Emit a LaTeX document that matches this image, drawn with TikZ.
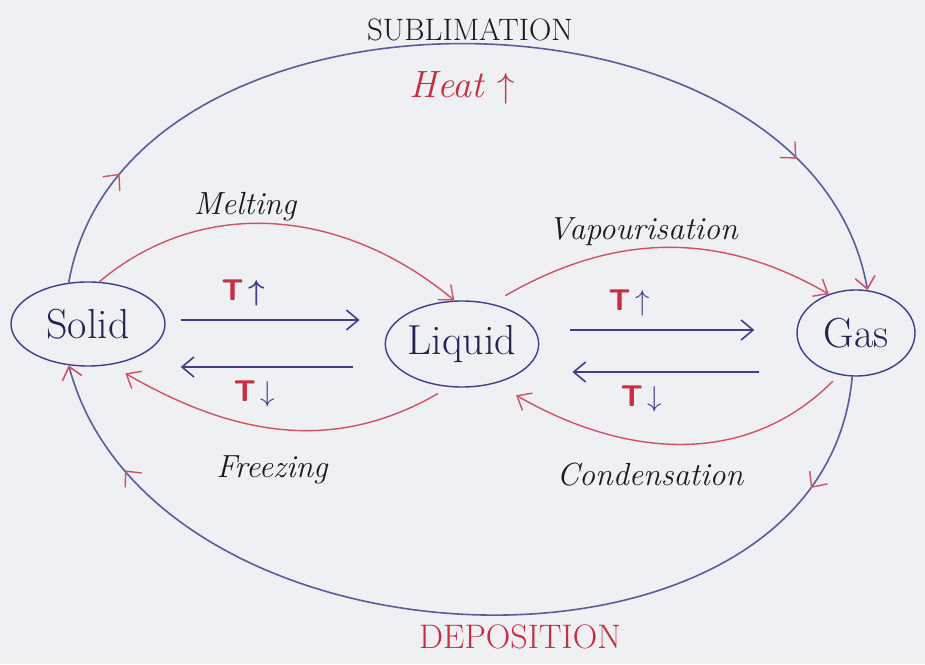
\documentclass[tikz,border=0pt]{standalone}
\usepackage{amsmath}
\usetikzlibrary{arrows.meta,shapes.geometric,decorations.markings}

\definecolor{inkblue}{RGB}{62,62,140}
\definecolor{inkred}{RGB}{200,45,65}
\definecolor{arcred}{RGB}{212,80,100}
\definecolor{inkblack}{RGB}{25,25,35}
\definecolor{paper}{RGB}{238,240,243}

\begin{document}
\begin{tikzpicture}
      [
        x=0.5pt, y=0.5pt,
        >={Straight Barb[length=6pt,width=10pt]},
        State/.style={draw=inkblue, ellipse, line width=0.7pt, inner sep=0pt, text=inkblue!60!black, font=\fontsize{21}{24}\selectfont},
        Flow/.style={->, draw=inkblue, line width=0.8pt},
        Change/.style={-{Straight Barb[length=6pt,width=10pt]}, draw=arcred, line width=0.7pt},
        Loop/.style={-{Straight Barb[length=6pt,width=10pt,color=arcred]}, draw=inkblue!85, line width=0.8pt},
        midtip/.style={postaction={decorate, decoration={markings, mark=at position #1 with {\arrow[color=arcred, line width=0.7pt]{Straight Barb[length=6pt,width=11pt]}}}}},
        Name/.style={font=\fontsize{16}{19}\selectfont\itshape, text=inkblack},
        Tmark/.style={font=\fontsize{15}{18}\selectfont\sffamily\bfseries},
      ]

      \fill[paper] (0,0) rectangle (925,664);
      \useasboundingbox (0,0) rectangle (925,664);

      % states of matter
      \node [State, minimum width=77pt, minimum height=42pt] (solid) at (88,340) {Solid};
      \node [State, minimum width=75pt, minimum height=43pt] (liquid) at (462,320) {Liquid};
      \node [State, minimum width=59pt, minimum height=43pt] (gas) at (856,331) {Gas};

      % temperature arrows
      \draw [Flow] ([shift={(15,4)}]solid.east) -- ([shift={(-25,24)}]liquid.west)
        node [Tmark, pos=0.35, above=3pt] {\textcolor{inkred}{T}\,\textcolor{inkblue}{$\boldsymbol\uparrow$}};
      \draw [Flow] ([shift={(-32,-23)}]liquid.west) -- ([shift={(15,-43)}]solid.east)
        node [Tmark, pos=0.57, below=3pt] {\textcolor{inkred}{T}\,\textcolor{inkblue}{$\downarrow$}};
      \draw [Flow] ([shift={(31,14)}]liquid.east) -- ([shift={(-42,3)}]gas.west)
        node [Tmark, pos=0.32, above=3pt] {\textcolor{inkred}{T}\,\textcolor{inkblue}{$\uparrow$}};
      \draw [Flow] ([shift={(-37,-39)}]gas.west) -- ([shift={(33,-28)}]liquid.east)
        node [Tmark, pos=0.63, below=3pt] {\textcolor{inkred}{T}\,\textcolor{inkblue}{$\downarrow$}};

      % phase changes
      \draw [Change] (solid.75) to [out=40, in=140] (liquid.100);
      \draw [Change] ([yshift=6pt]liquid.40) to [out=30, in=150] (gas.125);
      \draw [Change] ([yshift=-4pt]liquid.240) to [out=-150, in=-30] ([yshift=-6pt]solid.315);
      \draw [Change] ([yshift=-4pt]gas.240) to [out=-135, in=-30] ([yshift=-10pt]liquid.330);

      \node [Name] (melt) at (245,457) {Melting};
      \node [Name] (vapour) at (643,432) {Vapourisation};
      \node [Name] (freeze) at (272,194) {Freezing};
      \node [Name] (cond) at (650,189) {Condensation};

      % solid <-> gas
      \draw [Loop, midtip=0.12, midtip=0.85] (solid.115) to [out=80, in=100, looseness=1.05] (gas.75);
      \draw [Loop, midtip=0.12, midtip=0.88] (gas.265) to [out=-95, in=-75, looseness=1.08] (solid.245);

      \node [font=\fontsize{15.5}{18}\selectfont, text=inkblack] (subl) at (470,634) {SUBLIMATION};
      \node [font=\fontsize{19}{22}\selectfont\itshape, text=inkred] (heat) at (462,576) {Heat $\uparrow$};
      \node [font=\fontsize{17}{20}\selectfont, text=inkred] (depo) at (520,27) {DEPOSITION};
    \end{tikzpicture}
\end{document}
